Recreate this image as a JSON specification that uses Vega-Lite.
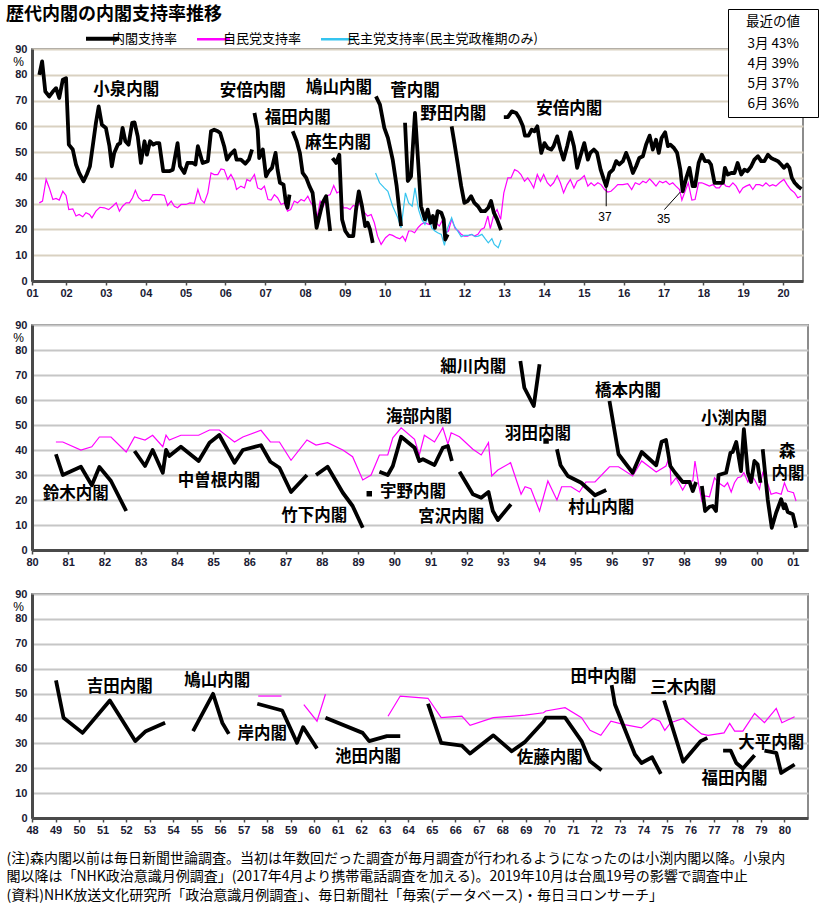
{
  "$schema": "https://vega.github.io/schema/vega-lite/v6.json",
  "padding": {"left": 5, "top": 5, "right": 5, "bottom": 5},
  "title": {"text": "歴代内閣の内閣支持率推移", "anchor": "start", "frame": "group", "font": "Noto Sans CJK JP", "fontSize": 18, "fontWeight": "bold", "dx": -26, "offset": -16, "color": "black"},
  "spacing": 44,
  "bounds": "flush",
  "config": {
    "font": "Noto Sans CJK JP",
    "view": {"stroke": "#8c8c8c", "strokeWidth": 2},
    "axis": {"domainColor": "#4a4a4a", "domainWidth": 3, "labelFont": "Liberation Sans", "labelFontWeight": "bold", "labelFontSize": 11, "labelColor": "#1a1a33", "gridColor": "#c6c6c6", "gridWidth": 2, "labelOverlap": false, "labelFlush": false, "labelSeparation": 0},
    "axisY": {"ticks": false, "labelPadding": 5, "grid": true, "labelOverlap": false, "labelBound": false},
    "axisQuantitative": {"labelOverlap": false},
    "axisX": {"grid": false, "tickSize": 4, "tickColor": "#4a4a4a", "tickWidth": 1.5, "labelPadding": 2},
    "text": {"font": "Noto Sans CJK JP", "fontSize": 16.5, "fontWeight": "bold", "color": "black"}
  },
  "resolve": {"scale": {"color": "independent", "shape": "independent"}, "legend": {"color": "independent", "shape": "independent"}},
  "datasets": {
    "p1cab": [
      {"g":"小泉","x":2001.33,"y":80.0},{"g":"小泉","x":2001.40,"y":85.2},{"g":"小泉","x":2001.48,"y":73.5},{"g":"小泉","x":2001.58,"y":71.6},{"g":"小泉","x":2001.67,"y":73.5},{"g":"小泉","x":2001.75,"y":74.8},{"g":"小泉","x":2001.83,"y":71.0},{"g":"小泉","x":2001.92,"y":78.1},{"g":"小泉","x":2002.00,"y":78.7},{"g":"小泉","x":2002.07,"y":52.9},{"g":"小泉","x":2002.17,"y":51.0},{"g":"小泉","x":2002.25,"y":45.2},{"g":"小泉","x":2002.33,"y":41.9},{"g":"小泉","x":2002.44,"y":38.7},{"g":"小泉","x":2002.52,"y":41.3},{"g":"小泉","x":2002.60,"y":44.5},{"g":"小泉","x":2002.67,"y":52.3},{"g":"小泉","x":2002.75,"y":61.3},{"g":"小泉","x":2002.82,"y":67.7},{"g":"小泉","x":2002.90,"y":60.6},{"g":"小泉","x":2003.00,"y":59.4},{"g":"小泉","x":2003.09,"y":52.3},{"g":"小泉","x":2003.15,"y":44.5},{"g":"小泉","x":2003.21,"y":49.7},{"g":"小泉","x":2003.30,"y":52.9},{"g":"小泉","x":2003.36,"y":53.5},{"g":"小泉","x":2003.42,"y":59.4},{"g":"小泉","x":2003.49,"y":54.2},{"g":"小泉","x":2003.57,"y":52.9},{"g":"小泉","x":2003.66,"y":61.3},{"g":"小泉","x":2003.72,"y":61.5},{"g":"小泉","x":2003.80,"y":56.1},{"g":"小泉","x":2003.88,"y":45.8},{"g":"小泉","x":2003.97,"y":54.2},{"g":"小泉","x":2004.03,"y":49.0},{"g":"小泉","x":2004.11,"y":54.2},{"g":"小泉","x":2004.19,"y":52.9},{"g":"小泉","x":2004.26,"y":53.5},{"g":"小泉","x":2004.34,"y":53.5},{"g":"小泉","x":2004.44,"y":42.6},{"g":"小泉","x":2004.59,"y":42.6},{"g":"小泉","x":2004.68,"y":43.2},{"g":"小泉","x":2004.80,"y":53.5},{"g":"小泉","x":2004.86,"y":44.5},{"g":"小泉","x":2004.97,"y":41.9},{"g":"小泉","x":2005.05,"y":45.8},{"g":"小泉","x":2005.18,"y":45.8},{"g":"小泉","x":2005.25,"y":45.2},{"g":"小泉","x":2005.31,"y":52.3},{"g":"小泉","x":2005.43,"y":45.8},{"g":"小泉","x":2005.56,"y":46.5},{"g":"小泉","x":2005.64,"y":58.1},{"g":"小泉","x":2005.72,"y":58.7},{"g":"小泉","x":2005.81,"y":58.1},{"g":"小泉","x":2005.87,"y":57.4},{"g":"小泉","x":2005.97,"y":52.3},{"g":"小泉","x":2006.04,"y":47.1},{"g":"小泉","x":2006.12,"y":49.0},{"g":"小泉","x":2006.23,"y":50.7},{"g":"小泉","x":2006.28,"y":47.1},{"g":"小泉","x":2006.39,"y":47.1},{"g":"小泉","x":2006.50,"y":45.5},{"g":"小泉","x":2006.59,"y":47.1},{"g":"小泉","x":2006.67,"y":51.0},
      {"g":"安倍1","x":2006.73,"y":65.2},{"g":"安倍1","x":2006.81,"y":58.7},{"g":"安倍1","x":2006.85,"y":47.7},{"g":"安倍1","x":2006.94,"y":51.0},{"g":"安倍1","x":2007.02,"y":40.6},{"g":"安倍1","x":2007.09,"y":42.6},{"g":"安倍1","x":2007.17,"y":43.9},{"g":"安倍1","x":2007.26,"y":49.7},{"g":"安倍1","x":2007.31,"y":43.2},{"g":"安倍1","x":2007.37,"y":38.1},{"g":"安倍1","x":2007.46,"y":37.4},{"g":"安倍1","x":2007.52,"y":30.3},{"g":"安倍1","x":2007.56,"y":28.4},{"g":"安倍1","x":2007.61,"y":33.5},
      {"g":"福田","x":2007.69,"y":58.1},{"g":"福田","x":2007.79,"y":54.2},{"g":"福田","x":2007.87,"y":49.7},{"g":"福田","x":2007.94,"y":41.9},{"g":"福田","x":2008.03,"y":40.0},{"g":"福田","x":2008.11,"y":36.8},{"g":"福田","x":2008.19,"y":34.2},{"g":"福田","x":2008.29,"y":20.6},{"g":"福田","x":2008.36,"y":25.2},{"g":"福田","x":2008.44,"y":30.3},{"g":"福田","x":2008.53,"y":32.9},{"g":"福田","x":2008.63,"y":19.4},
      {"g":"麻生","x":2008.69,"y":47.7},{"g":"麻生","x":2008.78,"y":45.8},{"g":"麻生","x":2008.86,"y":49.0},{"g":"麻生","x":2008.93,"y":23.9},{"g":"麻生","x":2009.01,"y":19.4},{"g":"麻生","x":2009.10,"y":17.4},{"g":"麻生","x":2009.21,"y":17.4},{"g":"麻生","x":2009.28,"y":27.7},{"g":"麻生","x":2009.35,"y":34.8},{"g":"麻生","x":2009.43,"y":29.0},{"g":"麻生","x":2009.51,"y":21.3},{"g":"麻生","x":2009.57,"y":22.6},{"g":"麻生","x":2009.63,"y":20.0},{"g":"麻生","x":2009.70,"y":14.8},
      {"g":"鳩山","x":2009.78,"y":71.6},{"g":"鳩山","x":2009.88,"y":68.4},{"g":"鳩山","x":2009.99,"y":59.4},{"g":"鳩山","x":2010.08,"y":55.5},{"g":"鳩山","x":2010.20,"y":47.1},{"g":"鳩山","x":2010.30,"y":36.8},{"g":"鳩山","x":2010.41,"y":21.3},
      {"g":"菅","x":2010.51,"y":61.4},{"g":"菅","x":2010.58,"y":38.8},{"g":"菅","x":2010.66,"y":40.6},{"g":"菅","x":2010.76,"y":65.2},{"g":"菅","x":2010.83,"y":48.4},{"g":"菅","x":2010.91,"y":29.0},{"g":"菅","x":2011.01,"y":23.9},{"g":"菅","x":2011.08,"y":27.7},{"g":"菅","x":2011.15,"y":22.6},{"g":"菅","x":2011.21,"y":25.2},{"g":"菅","x":2011.26,"y":20.6},{"g":"菅","x":2011.33,"y":27.1},{"g":"菅","x":2011.42,"y":26.5},{"g":"菅","x":2011.48,"y":23.9},{"g":"菅","x":2011.52,"y":16.1},{"g":"菅","x":2011.58,"y":18.1},
      {"g":"野田","x":2011.68,"y":60.0},{"g":"野田","x":2011.75,"y":53.5},{"g":"野田","x":2011.83,"y":45.8},{"g":"野田","x":2011.92,"y":36.8},{"g":"野田","x":2012.00,"y":30.3},{"g":"野田","x":2012.08,"y":31.0},{"g":"野田","x":2012.17,"y":32.9},{"g":"野田","x":2012.25,"y":30.3},{"g":"野田","x":2012.34,"y":29.0},{"g":"野田","x":2012.42,"y":27.1},{"g":"野田","x":2012.52,"y":27.1},{"g":"野田","x":2012.60,"y":28.4},{"g":"野田","x":2012.67,"y":31.0},{"g":"野田","x":2012.74,"y":26.5},{"g":"野田","x":2012.82,"y":23.9},{"g":"野田","x":2012.92,"y":19.7},
      {"g":"安倍2","x":2012.99,"y":63.6},{"g":"安倍2","x":2013.09,"y":63.6},{"g":"安倍2","x":2013.19,"y":65.8},{"g":"安倍2","x":2013.30,"y":65.2},{"g":"安倍2","x":2013.38,"y":63.2},{"g":"安倍2","x":2013.47,"y":60.0},{"g":"安倍2","x":2013.52,"y":56.4},{"g":"安倍2","x":2013.61,"y":56.4},{"g":"安倍2","x":2013.69,"y":58.7},{"g":"安倍2","x":2013.76,"y":58.1},{"g":"安倍2","x":2013.83,"y":60.0},{"g":"安倍2","x":2013.93,"y":49.7},{"g":"安倍2","x":2014.01,"y":53.5},{"g":"安倍2","x":2014.09,"y":51.6},{"g":"安倍2","x":2014.18,"y":51.0},{"g":"安倍2","x":2014.24,"y":52.3},{"g":"安倍2","x":2014.33,"y":56.1},{"g":"安倍2","x":2014.41,"y":51.0},{"g":"安倍2","x":2014.49,"y":47.1},{"g":"安倍2","x":2014.58,"y":52.3},{"g":"安倍2","x":2014.66,"y":57.7},{"g":"安倍2","x":2014.75,"y":52.3},{"g":"安倍2","x":2014.83,"y":43.9},{"g":"安倍2","x":2014.91,"y":48.4},{"g":"安倍2","x":2015.01,"y":53.5},{"g":"安倍2","x":2015.10,"y":47.1},{"g":"安倍2","x":2015.16,"y":49.7},{"g":"安倍2","x":2015.25,"y":51.0},{"g":"安倍2","x":2015.33,"y":49.7},{"g":"安倍2","x":2015.42,"y":43.2},{"g":"安倍2","x":2015.50,"y":39.4},{"g":"安倍2","x":2015.56,"y":36.8},{"g":"安倍2","x":2015.64,"y":41.9},{"g":"安倍2","x":2015.73,"y":43.2},{"g":"安倍2","x":2015.81,"y":46.5},{"g":"安倍2","x":2015.89,"y":45.2},{"g":"安倍2","x":2015.98,"y":46.5},{"g":"安倍2","x":2016.06,"y":49.7},{"g":"安倍2","x":2016.14,"y":46.5},{"g":"安倍2","x":2016.23,"y":41.9},{"g":"安倍2","x":2016.31,"y":44.5},{"g":"安倍2","x":2016.39,"y":47.7},{"g":"安倍2","x":2016.48,"y":48.4},{"g":"安倍2","x":2016.56,"y":52.9},{"g":"安倍2","x":2016.65,"y":56.4},{"g":"安倍2","x":2016.73,"y":51.0},{"g":"安倍2","x":2016.81,"y":54.8},{"g":"安倍2","x":2016.88,"y":49.7},{"g":"安倍2","x":2016.95,"y":55.5},{"g":"安倍2","x":2017.04,"y":57.7},{"g":"安倍2","x":2017.11,"y":52.3},{"g":"安倍2","x":2017.17,"y":52.9},{"g":"安倍2","x":2017.26,"y":51.6},{"g":"安倍2","x":2017.34,"y":49.7},{"g":"安倍2","x":2017.42,"y":43.2},{"g":"安倍2","x":2017.48,"y":34.8},{"g":"安倍2","x":2017.57,"y":40.0},{"g":"安倍2","x":2017.65,"y":43.9},{"g":"安倍2","x":2017.73,"y":36.8},{"g":"安倍2","x":2017.79,"y":36.8},{"g":"安倍2","x":2017.88,"y":45.8},{"g":"安倍2","x":2017.96,"y":49.0},{"g":"安倍2","x":2018.04,"y":46.5},{"g":"安倍2","x":2018.13,"y":46.5},{"g":"安倍2","x":2018.19,"y":45.2},{"g":"安倍2","x":2018.28,"y":38.1},{"g":"安倍2","x":2018.38,"y":38.1},{"g":"安倍2","x":2018.49,"y":38.1},{"g":"安倍2","x":2018.54,"y":43.9},{"g":"安倍2","x":2018.61,"y":41.3},{"g":"安倍2","x":2018.70,"y":41.9},{"g":"安倍2","x":2018.78,"y":41.9},{"g":"安倍2","x":2018.86,"y":45.8},{"g":"安倍2","x":2018.95,"y":41.3},{"g":"安倍2","x":2019.03,"y":43.2},{"g":"安倍2","x":2019.11,"y":42.6},{"g":"安倍2","x":2019.20,"y":44.5},{"g":"安倍2","x":2019.28,"y":47.1},{"g":"安倍2","x":2019.37,"y":48.4},{"g":"安倍2","x":2019.45,"y":46.5},{"g":"安倍2","x":2019.53,"y":46.5},{"g":"安倍2","x":2019.62,"y":49.0},{"g":"安倍2","x":2019.70,"y":47.7},{"g":"安倍2","x":2019.78,"y":47.1},{"g":"安倍2","x":2019.87,"y":46.5},{"g":"安倍2","x":2019.95,"y":45.2},{"g":"安倍2","x":2020.02,"y":43.9},{"g":"安倍2","x":2020.10,"y":45.2},{"g":"安倍2","x":2020.16,"y":43.9},{"g":"安倍2","x":2020.22,"y":40.0},{"g":"安倍2","x":2020.29,"y":38.1},{"g":"安倍2","x":2020.37,"y":36.8},{"g":"安倍2","x":2020.46,"y":35.7}
    ],
    "p1ldp": [
      {"x":2001.33,"y":30.3},{"x":2001.41,"y":31.0},{"x":2001.50,"y":39.4},{"x":2001.58,"y":36.1},{"x":2001.67,"y":31.6},{"x":2001.75,"y":32.0},{"x":2001.83,"y":31.4},{"x":2001.92,"y":34.8},{"x":2002.00,"y":33.2},{"x":2002.07,"y":27.7},{"x":2002.17,"y":28.0},{"x":2002.25,"y":25.2},{"x":2002.33,"y":25.8},{"x":2002.42,"y":24.9},{"x":2002.50,"y":26.5},{"x":2002.59,"y":25.8},{"x":2002.65,"y":24.5},{"x":2002.75,"y":27.1},{"x":2002.85,"y":28.6},{"x":2002.96,"y":28.4},{"x":2003.07,"y":27.7},{"x":2003.17,"y":29.0},{"x":2003.26,"y":30.3},{"x":2003.34,"y":27.1},{"x":2003.42,"y":29.0},{"x":2003.51,"y":30.3},{"x":2003.59,"y":30.3},{"x":2003.67,"y":32.3},{"x":2003.74,"y":35.2},{"x":2003.82,"y":32.3},{"x":2003.92,"y":31.0},{"x":2004.01,"y":31.4},{"x":2004.09,"y":31.2},{"x":2004.18,"y":33.5},{"x":2004.28,"y":33.5},{"x":2004.38,"y":33.5},{"x":2004.47,"y":33.2},{"x":2004.55,"y":29.3},{"x":2004.64,"y":31.0},{"x":2004.72,"y":29.0},{"x":2004.80,"y":28.4},{"x":2004.89,"y":29.7},{"x":2005.01,"y":29.7},{"x":2005.11,"y":30.3},{"x":2005.22,"y":30.1},{"x":2005.31,"y":35.5},{"x":2005.39,"y":31.6},{"x":2005.47,"y":30.3},{"x":2005.56,"y":34.2},{"x":2005.64,"y":41.9},{"x":2005.72,"y":41.3},{"x":2005.81,"y":41.3},{"x":2005.89,"y":43.5},{"x":2005.97,"y":43.2},{"x":2006.06,"y":39.4},{"x":2006.14,"y":41.3},{"x":2006.23,"y":38.7},{"x":2006.28,"y":35.5},{"x":2006.39,"y":36.8},{"x":2006.48,"y":36.1},{"x":2006.54,"y":39.4},{"x":2006.62,"y":38.7},{"x":2006.73,"y":41.3},{"x":2006.81,"y":36.1},{"x":2006.90,"y":35.5},{"x":2006.98,"y":36.8},{"x":2007.07,"y":31.6},{"x":2007.15,"y":31.4},{"x":2007.23,"y":33.5},{"x":2007.31,"y":32.3},{"x":2007.40,"y":29.7},{"x":2007.48,"y":30.3},{"x":2007.56,"y":27.1},{"x":2007.64,"y":27.7},{"x":2007.73,"y":31.0},{"x":2007.81,"y":30.3},{"x":2007.90,"y":31.6},{"x":2007.98,"y":31.0},{"x":2008.07,"y":32.9},{"x":2008.15,"y":30.3},{"x":2008.23,"y":28.4},{"x":2008.31,"y":25.2},{"x":2008.38,"y":31.0},{"x":2008.46,"y":29.0},{"x":2008.54,"y":32.9},{"x":2008.63,"y":33.5},{"x":2008.72,"y":37.0},{"x":2008.80,"y":34.2},{"x":2008.88,"y":34.8},{"x":2008.96,"y":28.4},{"x":2009.05,"y":28.4},{"x":2009.13,"y":27.7},{"x":2009.21,"y":29.3},{"x":2009.30,"y":28.8},{"x":2009.38,"y":30.3},{"x":2009.46,"y":27.1},{"x":2009.57,"y":25.2},{"x":2009.66,"y":25.8},{"x":2009.74,"y":22.6},{"x":2009.82,"y":17.4},{"x":2009.91,"y":14.2},{"x":2010.02,"y":16.8},{"x":2010.12,"y":18.1},{"x":2010.20,"y":17.7},{"x":2010.30,"y":16.8},{"x":2010.38,"y":16.4},{"x":2010.45,"y":17.4},{"x":2010.52,"y":15.5},{"x":2010.60,"y":19.4},{"x":2010.67,"y":19.4},{"x":2010.75,"y":18.7},{"x":2010.83,"y":20.6},{"x":2010.91,"y":21.9},{"x":2010.99,"y":22.6},{"x":2011.12,"y":21.9},{"x":2011.21,"y":23.2},{"x":2011.29,"y":22.6},{"x":2011.37,"y":21.3},{"x":2011.46,"y":23.9},{"x":2011.52,"y":18.7},{"x":2011.60,"y":19.4},{"x":2011.68,"y":23.9},{"x":2011.77,"y":20.3},{"x":2011.85,"y":19.4},{"x":2011.92,"y":18.1},{"x":2012.00,"y":17.4},{"x":2012.08,"y":17.4},{"x":2012.17,"y":18.1},{"x":2012.25,"y":17.4},{"x":2012.34,"y":18.1},{"x":2012.42,"y":20.0},{"x":2012.50,"y":20.6},{"x":2012.59,"y":25.2},{"x":2012.65,"y":20.3},{"x":2012.74,"y":25.8},{"x":2012.82,"y":27.7},{"x":2012.91,"y":23.9},{"x":2012.99,"y":34.2},{"x":2013.09,"y":40.0},{"x":2013.17,"y":40.0},{"x":2013.26,"y":43.2},{"x":2013.34,"y":42.6},{"x":2013.42,"y":41.3},{"x":2013.51,"y":38.7},{"x":2013.59,"y":40.0},{"x":2013.67,"y":38.1},{"x":2013.74,"y":36.1},{"x":2013.83,"y":41.3},{"x":2013.91,"y":38.7},{"x":2013.99,"y":41.3},{"x":2014.08,"y":38.1},{"x":2014.16,"y":36.8},{"x":2014.24,"y":38.1},{"x":2014.33,"y":40.9},{"x":2014.41,"y":38.1},{"x":2014.49,"y":34.2},{"x":2014.58,"y":37.4},{"x":2014.66,"y":39.4},{"x":2014.75,"y":36.1},{"x":2014.83,"y":38.7},{"x":2014.91,"y":39.4},{"x":2015.01,"y":40.9},{"x":2015.10,"y":36.8},{"x":2015.18,"y":38.1},{"x":2015.26,"y":37.0},{"x":2015.35,"y":38.1},{"x":2015.43,"y":37.4},{"x":2015.52,"y":35.5},{"x":2015.60,"y":34.5},{"x":2015.68,"y":34.8},{"x":2015.77,"y":36.1},{"x":2015.85,"y":37.4},{"x":2015.98,"y":37.4},{"x":2016.10,"y":37.8},{"x":2016.20,"y":35.5},{"x":2016.29,"y":38.1},{"x":2016.39,"y":37.4},{"x":2016.48,"y":38.7},{"x":2016.56,"y":38.1},{"x":2016.65,"y":39.6},{"x":2016.73,"y":38.3},{"x":2016.81,"y":36.8},{"x":2016.90,"y":38.7},{"x":2016.98,"y":38.1},{"x":2017.06,"y":38.7},{"x":2017.15,"y":37.4},{"x":2017.23,"y":38.1},{"x":2017.31,"y":36.8},{"x":2017.40,"y":35.5},{"x":2017.46,"y":31.4},{"x":2017.54,"y":34.8},{"x":2017.62,"y":38.1},{"x":2017.71,"y":31.4},{"x":2017.79,"y":31.6},{"x":2017.88,"y":38.1},{"x":2017.96,"y":38.1},{"x":2018.07,"y":37.4},{"x":2018.15,"y":36.8},{"x":2018.24,"y":37.4},{"x":2018.32,"y":36.1},{"x":2018.40,"y":36.1},{"x":2018.49,"y":38.1},{"x":2018.57,"y":36.8},{"x":2018.65,"y":36.5},{"x":2018.74,"y":38.1},{"x":2018.82,"y":36.8},{"x":2018.91,"y":34.2},{"x":2018.99,"y":36.1},{"x":2019.07,"y":36.8},{"x":2019.16,"y":37.4},{"x":2019.24,"y":35.5},{"x":2019.32,"y":37.4},{"x":2019.41,"y":37.4},{"x":2019.49,"y":36.8},{"x":2019.57,"y":38.1},{"x":2019.66,"y":36.8},{"x":2019.74,"y":37.4},{"x":2019.82,"y":36.8},{"x":2019.91,"y":38.1},{"x":2020.02,"y":39.4},{"x":2020.10,"y":37.4},{"x":2020.19,"y":35.5},{"x":2020.29,"y":34.2},{"x":2020.37,"y":32.3},{"x":2020.45,"y":32.9}
    ],
    "p1dpj": [
      {"x":2009.77,"y":41.9},{"x":2009.87,"y":38.1},{"x":2009.99,"y":36.1},{"x":2010.08,"y":34.8},{"x":2010.20,"y":29.0},{"x":2010.33,"y":24.5},{"x":2010.41,"y":20.6},{"x":2010.52,"y":34.2},{"x":2010.60,"y":30.3},{"x":2010.69,"y":29.0},{"x":2010.76,"y":36.1},{"x":2010.85,"y":27.7},{"x":2010.93,"y":23.9},{"x":2011.01,"y":21.9},{"x":2011.10,"y":25.2},{"x":2011.18,"y":20.6},{"x":2011.26,"y":19.4},{"x":2011.33,"y":18.7},{"x":2011.42,"y":18.1},{"x":2011.50,"y":13.8},{"x":2011.58,"y":20.6},{"x":2011.68,"y":24.5},{"x":2011.75,"y":21.3},{"x":2011.83,"y":19.4},{"x":2011.92,"y":17.2},{"x":2012.00,"y":17.7},{"x":2012.10,"y":17.7},{"x":2012.19,"y":18.1},{"x":2012.27,"y":17.2},{"x":2012.35,"y":17.4},{"x":2012.44,"y":18.1},{"x":2012.52,"y":16.4},{"x":2012.60,"y":14.8},{"x":2012.69,"y":16.4},{"x":2012.75,"y":14.2},{"x":2012.85,"y":12.9},{"x":2012.92,"y":15.9}
    ],
    "l1": [
      {"t":"小泉内閣","x":2003.51,"y":74.1},{"t":"安倍内閣","x":2006.69,"y":73.7},{"t":"福田内閣","x":2007.82,"y":63.2},{"t":"麻生内閣","x":2008.83,"y":53.5},{"t":"鳩山内閣","x":2008.85,"y":74.9},{"t":"菅内閣","x":2010.76,"y":73.7},{"t":"野田内閣","x":2011.72,"y":64.8},{"t":"安倍内閣","x":2014.63,"y":66.7}
    ],
    "a1": [
      {"x":2015.56,"y":36.8,"x2":2015.56,"y2":29.0},{"x":2017.42,"y":34.5,"x2":2017.02,"y2":27.7}
    ],
    "n1": [
      {"t":"37","x":2015.53,"y":24.9},{"t":"35","x":2017.0,"y":24.1}
    ],
    "recent": [
      {"m":"3月 43%"},{"m":"4月 39%"},{"m":"5月 37%"},{"m":"6月 36%"}
    ],
    "p2cab": [
      {"g":"鈴木","x":1980.66,"y":38.3},{"g":"鈴木","x":1980.85,"y":30.0},{"g":"鈴木","x":1981.35,"y":33.3},{"g":"鈴木","x":1981.65,"y":25.9},{"g":"鈴木","x":1981.86,"y":33.2},{"g":"鈴木","x":1982.18,"y":27.6},{"g":"鈴木","x":1982.60,"y":15.6},
      {"g":"中曽根","x":1982.83,"y":39.6},{"g":"中曽根","x":1983.12,"y":33.6},{"g":"中曽根","x":1983.33,"y":40.0},{"g":"中曽根","x":1983.61,"y":30.9},{"g":"中曽根","x":1983.70,"y":40.0},{"g":"中曽根","x":1983.79,"y":37.6},{"g":"中曽根","x":1984.11,"y":41.3},{"g":"中曽根","x":1984.60,"y":35.6},{"g":"中曽根","x":1984.90,"y":42.9},{"g":"中曽根","x":1985.17,"y":46.0},{"g":"中曽根","x":1985.59,"y":34.9},{"g":"中曽根","x":1985.82,"y":40.0},{"g":"中曽根","x":1986.32,"y":41.9},{"g":"中曽根","x":1986.58,"y":35.3},{"g":"中曽根","x":1986.83,"y":32.9},{"g":"中曽根","x":1987.15,"y":23.2},{"g":"中曽根","x":1987.59,"y":30.0},
      {"g":"竹下","x":1987.84,"y":30.0},{"g":"竹下","x":1988.16,"y":33.3},{"g":"竹下","x":1988.58,"y":22.9},{"g":"竹下","x":1988.85,"y":17.6},{"g":"竹下","x":1989.13,"y":8.9},
      {"g":"海部","x":1989.59,"y":31.3},{"g":"海部","x":1989.82,"y":30.0},{"g":"海部","x":1989.96,"y":33.6},{"g":"海部","x":1990.19,"y":45.3},{"g":"海部","x":1990.56,"y":40.9},{"g":"海部","x":1990.69,"y":35.6},{"g":"海部","x":1990.79,"y":36.3},{"g":"海部","x":1991.11,"y":34.0},{"g":"海部","x":1991.34,"y":40.9},{"g":"海部","x":1991.48,"y":41.6},{"g":"海部","x":1991.59,"y":35.6},
      {"g":"宮沢","x":1991.80,"y":31.3},{"g":"宮沢","x":1992.17,"y":22.3},{"g":"宮沢","x":1992.40,"y":20.9},{"g":"宮沢","x":1992.60,"y":23.2},{"g":"宮沢","x":1992.72,"y":15.6},{"g":"宮沢","x":1992.86,"y":12.0},{"g":"宮沢","x":1993.22,"y":18.3},
      {"g":"細川","x":1993.48,"y":75.6},{"g":"細川","x":1993.59,"y":64.9},{"g":"細川","x":1993.85,"y":57.6},{"g":"細川","x":1994.01,"y":74.3},
      {"g":"村山","x":1994.49,"y":40.3},{"g":"村山","x":1994.59,"y":33.9},{"g":"村山","x":1994.79,"y":29.6},{"g":"村山","x":1995.16,"y":26.9},{"g":"村山","x":1995.54,"y":21.9},{"g":"村山","x":1995.85,"y":24.0},
      {"g":"橋本","x":1995.94,"y":59.6},{"g":"橋本","x":1996.19,"y":38.3},{"g":"橋本","x":1996.58,"y":30.9},{"g":"橋本","x":1996.83,"y":39.2},{"g":"橋本","x":1997.23,"y":33.9},{"g":"橋本","x":1997.38,"y":43.3},{"g":"橋本","x":1997.50,"y":44.0},{"g":"橋本","x":1997.62,"y":33.6},{"g":"橋本","x":1997.75,"y":30.9},{"g":"橋本","x":1997.96,"y":27.2},{"g":"橋本","x":1998.15,"y":27.2},{"g":"橋本","x":1998.24,"y":23.6},{"g":"橋本","x":1998.33,"y":27.2},
      {"g":"小渕","x":1998.49,"y":25.6},{"g":"小渕","x":1998.58,"y":15.6},{"g":"小渕","x":1998.70,"y":17.3},{"g":"小渕","x":1998.79,"y":17.6},{"g":"小渕","x":1998.88,"y":15.6},{"g":"小渕","x":1998.95,"y":30.0},{"g":"小渕","x":1999.16,"y":30.9},{"g":"小渕","x":1999.28,"y":38.9},{"g":"小渕","x":1999.34,"y":39.2},{"g":"小渕","x":1999.44,"y":43.2},{"g":"小渕","x":1999.57,"y":31.6},{"g":"小渕","x":1999.65,"y":48.3},{"g":"小渕","x":1999.76,"y":30.9},{"g":"小渕","x":1999.85,"y":27.2},{"g":"小渕","x":1999.94,"y":35.6},{"g":"小渕","x":2000.03,"y":34.3},{"g":"小渕","x":2000.11,"y":26.9},
      {"g":"森","x":2000.17,"y":40.3},{"g":"森","x":2000.31,"y":20.0},{"g":"森","x":2000.42,"y":8.9},{"g":"森","x":2000.54,"y":14.9},{"g":"森","x":2000.68,"y":20.3},{"g":"森","x":2000.75,"y":16.7},{"g":"森","x":2000.79,"y":18.3},{"g":"森","x":2000.86,"y":15.2},{"g":"森","x":2001.00,"y":14.3},{"g":"森","x":2001.09,"y":8.9}
    ],
    "p2ldp": [
      {"x":1980.66,"y":43.2},{"x":1980.85,"y":43.2},{"x":1981.35,"y":40.0},{"x":1981.65,"y":41.3},{"x":1981.86,"y":45.2},{"x":1982.18,"y":45.2},{"x":1982.60,"y":39.2},{"x":1982.83,"y":45.2},{"x":1983.12,"y":44.0},{"x":1983.33,"y":45.9},{"x":1983.61,"y":41.3},{"x":1983.70,"y":45.9},{"x":1983.79,"y":44.0},{"x":1984.11,"y":45.9},{"x":1984.60,"y":45.9},{"x":1984.90,"y":48.0},{"x":1985.17,"y":48.0},{"x":1985.59,"y":43.2},{"x":1985.82,"y":45.2},{"x":1986.32,"y":47.9},{"x":1986.58,"y":43.2},{"x":1986.83,"y":43.2},{"x":1987.15,"y":35.9},{"x":1987.59,"y":44.0},{"x":1987.84,"y":42.0},{"x":1988.16,"y":42.9},{"x":1988.58,"y":40.0},{"x":1988.85,"y":37.3},{"x":1989.13,"y":28.0},{"x":1989.36,"y":30.0},{"x":1989.59,"y":38.0},{"x":1989.82,"y":38.0},{"x":1989.96,"y":44.9},{"x":1990.19,"y":48.9},{"x":1990.56,"y":44.3},{"x":1990.69,"y":38.0},{"x":1990.83,"y":45.9},{"x":1991.11,"y":43.2},{"x":1991.34,"y":48.9},{"x":1991.48,"y":42.3},{"x":1991.57,"y":46.9},{"x":1991.80,"y":45.3},{"x":1992.17,"y":40.3},{"x":1992.40,"y":38.0},{"x":1992.60,"y":42.9},{"x":1992.69,"y":29.6},{"x":1992.86,"y":32.0},{"x":1993.21,"y":34.9},{"x":1993.50,"y":22.3},{"x":1993.61,"y":25.3},{"x":1993.77,"y":24.5},{"x":1994.01,"y":15.6},{"x":1994.24,"y":27.6},{"x":1994.49,"y":20.0},{"x":1994.62,"y":25.3},{"x":1994.88,"y":25.3},{"x":1995.11,"y":23.2},{"x":1995.29,"y":27.2},{"x":1995.54,"y":27.2},{"x":1995.94,"y":33.3},{"x":1996.19,"y":33.3},{"x":1996.58,"y":29.6},{"x":1996.83,"y":35.6},{"x":1997.23,"y":31.2},{"x":1997.50,"y":33.6},{"x":1997.60,"y":37.6},{"x":1997.64,"y":26.3},{"x":1997.78,"y":28.9},{"x":1997.96,"y":24.0},{"x":1998.10,"y":27.6},{"x":1998.24,"y":27.6},{"x":1998.30,"y":35.6},{"x":1998.40,"y":26.3},{"x":1998.49,"y":19.6},{"x":1998.58,"y":21.6},{"x":1998.70,"y":21.3},{"x":1998.84,"y":28.9},{"x":1998.95,"y":26.9},{"x":1999.11,"y":25.3},{"x":1999.20,"y":26.9},{"x":1999.30,"y":23.2},{"x":1999.39,"y":26.9},{"x":1999.48,"y":28.9},{"x":1999.57,"y":29.3},{"x":1999.65,"y":30.9},{"x":1999.76,"y":27.2},{"x":1999.85,"y":29.6},{"x":1999.94,"y":28.3},{"x":2000.08,"y":24.3},{"x":2000.17,"y":30.9},{"x":2000.27,"y":28.3},{"x":2000.40,"y":22.3},{"x":2000.54,"y":22.9},{"x":2000.68,"y":22.3},{"x":2000.77,"y":26.9},{"x":2000.86,"y":23.6},{"x":2000.95,"y":23.2},{"x":2001.02,"y":22.9},{"x":2001.09,"y":19.6}
    ],
    "pt2": [
      {"x":1989.31,"y":22.5},{"x":1994.19,"y":43.6}
    ],
    "l2": [
      {"t":"鈴木内閣","x":1981.21,"y":22.4},{"t":"中曽根内閣","x":1985.16,"y":27.6},{"t":"竹下内閣","x":1987.79,"y":13.6},{"t":"宇野内閣","x":1990.52,"y":23.2},{"t":"海部内閣","x":1990.68,"y":53.2},{"t":"細川内閣","x":1992.18,"y":73.2},{"t":"羽田内閣","x":1993.97,"y":46.4},{"t":"宮沢内閣","x":1991.57,"y":13.2},{"t":"村山内閣","x":1995.71,"y":16.8},{"t":"橋本内閣","x":1996.45,"y":63.6},{"t":"小渕内閣","x":1999.38,"y":52.4},{"t":"森","x":2000.85,"y":39.2},{"t":"内閣","x":2000.87,"y":30.4}
    ],
    "p3cab": [
      {"g":"吉田","x":1949.02,"y":55.3},{"g":"吉田","x":1949.34,"y":40.3},{"g":"吉田","x":1950.15,"y":34.2},{"g":"吉田","x":1951.31,"y":47.2},{"g":"吉田","x":1952.39,"y":30.9},{"g":"吉田","x":1952.84,"y":34.9},{"g":"吉田","x":1953.66,"y":38.3},
      {"g":"鳩山","x":1954.85,"y":34.9},{"g":"鳩山","x":1955.70,"y":49.9},{"g":"鳩山","x":1956.09,"y":38.3},{"g":"鳩山","x":1956.37,"y":33.8},
      {"g":"岸","x":1957.58,"y":45.9},{"g":"岸","x":1958.64,"y":43.2},{"g":"岸","x":1959.27,"y":30.2},{"g":"岸","x":1959.53,"y":36.5},{"g":"岸","x":1960.12,"y":27.9},
      {"g":"池田","x":1960.48,"y":40.3},{"g":"池田","x":1962.06,"y":34.2},{"g":"池田","x":1962.34,"y":30.9},{"g":"池田","x":1963.09,"y":32.9},{"g":"池田","x":1963.66,"y":32.9},
      {"g":"佐藤","x":1964.84,"y":45.9},{"g":"佐藤","x":1965.40,"y":30.2},{"g":"佐藤","x":1966.28,"y":29.1},{"g":"佐藤","x":1966.63,"y":25.9},{"g":"佐藤","x":1967.62,"y":33.2},{"g":"佐藤","x":1968.40,"y":26.8},{"g":"佐藤","x":1968.97,"y":30.6},{"g":"佐藤","x":1969.75,"y":38.7},{"g":"佐藤","x":1969.85,"y":40.3},{"g":"佐藤","x":1970.67,"y":40.3},{"g":"佐藤","x":1971.37,"y":30.9},{"g":"佐藤","x":1971.73,"y":22.8},{"g":"佐藤","x":1972.22,"y":19.2},
      {"g":"田中","x":1972.65,"y":53.4},{"g":"田中","x":1972.79,"y":45.6},{"g":"田中","x":1973.64,"y":25.5},{"g":"田中","x":1973.92,"y":22.1},{"g":"田中","x":1974.37,"y":24.4},{"g":"田中","x":1974.74,"y":17.7},
      {"g":"三木","x":1974.88,"y":47.2},{"g":"三木","x":1975.69,"y":22.6},{"g":"三木","x":1976.44,"y":30.9},{"g":"三木","x":1976.72,"y":32.2},
      {"g":"福田","x":1977.39,"y":27.1},{"g":"福田","x":1977.71,"y":27.1},{"g":"福田","x":1977.95,"y":22.1},{"g":"福田","x":1978.23,"y":19.9},{"g":"福田","x":1978.73,"y":25.2},
      {"g":"大平","x":1979.15,"y":27.1},{"g":"大平","x":1979.65,"y":26.2},{"g":"大平","x":1979.86,"y":18.1},{"g":"大平","x":1980.43,"y":21.5}
    ],
    "p3ldp": [
      {"g":"a","x":1957.62,"y":49.0},{"g":"a","x":1958.61,"y":49.0},
      {"g":"b","x":1959.56,"y":45.6},{"g":"b","x":1960.12,"y":38.9},{"g":"b","x":1960.48,"y":49.7},
      {"g":"c","x":1963.14,"y":40.9},{"g":"c","x":1963.66,"y":49.0},{"g":"c","x":1964.84,"y":48.1},{"g":"c","x":1965.40,"y":40.3},{"g":"c","x":1966.28,"y":40.9},{"g":"c","x":1966.63,"y":37.2},{"g":"c","x":1967.62,"y":40.3},{"g":"c","x":1968.97,"y":41.3},{"g":"c","x":1969.75,"y":42.3},{"g":"c","x":1969.85,"y":43.0},{"g":"c","x":1970.67,"y":44.3},{"g":"c","x":1971.37,"y":40.3},{"g":"c","x":1971.73,"y":35.2},{"g":"c","x":1972.19,"y":33.2},{"g":"c","x":1972.62,"y":38.9},{"g":"c","x":1973.14,"y":37.6},{"g":"c","x":1973.92,"y":36.2},{"g":"c","x":1974.41,"y":40.0},{"g":"c","x":1974.70,"y":38.9},{"g":"c","x":1974.91,"y":35.2},{"g":"c","x":1975.16,"y":38.3},{"g":"c","x":1975.69,"y":40.0},{"g":"c","x":1976.47,"y":33.8},{"g":"c","x":1976.75,"y":33.2},{"g":"c","x":1977.43,"y":34.2},{"g":"c","x":1977.67,"y":38.0},{"g":"c","x":1977.88,"y":34.9},{"g":"c","x":1978.23,"y":34.9},{"g":"c","x":1978.73,"y":42.0},{"g":"c","x":1979.15,"y":38.3},{"g":"c","x":1979.65,"y":44.0},{"g":"c","x":1979.89,"y":38.3},{"g":"c","x":1980.43,"y":40.7}
    ],
    "l3": [
      {"t":"吉田内閣","x":1951.73,"y":52.6},{"t":"鳩山内閣","x":1955.88,"y":55.0},{"t":"岸内閣","x":1957.79,"y":33.7},{"t":"池田内閣","x":1962.29,"y":24.5},{"t":"佐藤内閣","x":1970.02,"y":24.1},{"t":"田中内閣","x":1972.30,"y":56.6},{"t":"三木内閣","x":1975.70,"y":52.2},{"t":"大平内閣","x":1979.44,"y":30.1},{"t":"福田内閣","x":1977.87,"y":15.7}
    ]
  },
  "vconcat": [
    {
      "width": 771,
      "height": 232,
      "encoding": {
        "x": {"field": "x", "type": "quantitative", "scale": {"domain": [2001.146, 2020.5], "nice": false, "zero": false},
              "axis": {"title": null, "labelOverlap": false, "tickCount": 20, "values": [2001.146,2002,2003,2004,2005,2006,2007,2008,2009,2010,2011,2012,2013,2014,2015,2016,2017,2018,2019,2020], "labelExpr": "substring(toString(floor(datum.value)), 2)"}},
        "y": {"field": "y", "type": "quantitative", "scale": {"domain": [0, 90], "nice": false},
              "axis": {"labelOverlap": false, "labelBound": false, "values": [0,10,20,30,40,50,60,70,80,90], "labelExpr": "toString(datum.value)", "gridColor": "#d9d1c1", "title": "%", "titleAngle": 0, "titleX": -14, "titleY": 12, "titleAlign": "center", "titleBaseline": "middle", "titleFont": "Liberation Sans", "titleFontSize": 12, "titleFontWeight": "normal"}}
      },
      "layer": [
        {
          "data": {"name": "p1ldp"},
          "mark": {"type": "line", "strokeWidth": 1.2},
          "encoding": {
            "color": {"datum": "自民党支持率", "type": "nominal",
                      "scale": {"domain": ["内閣支持率", "自民党支持率", "民主党支持率(民主党政権期のみ)"], "range": ["#000000", "#ff00ff", "#35c4ef"]},
                      "legend": {"title": null, "orient": "none", "legendX": 64, "legendY": -17, "direction": "horizontal", "symbolType": "stroke", "symbolSize": 1089, "symbolStrokeWidth": 2.5, "labelFont": "Noto Sans CJK JP", "labelFontSize": 13, "labelColor": "black", "labelOffset": 3, "columnPadding": 14, "labelLimit": 400, "padding": 0,
                                 "encode": {"symbols": {"update": {"strokeWidth": {"signal": "datum.value === '内閣支持率' ? 4 : 2.5"}}}}}}
          }
        },
        {
          "data": {"name": "p1dpj"},
          "mark": {"type": "line", "strokeWidth": 1.2},
          "encoding": {
            "color": {"datum": "民主党支持率(民主党政権期のみ)", "type": "nominal"}
          }
        },
        {
          "data": {"name": "p1cab"},
          "mark": {"type": "line", "strokeWidth": 3.8, "strokeJoin": "round"},
          "encoding": {
            "detail": {"field": "g", "type": "nominal"},
            "color": {"datum": "内閣支持率", "type": "nominal"}
          }
        },
        {
          "data": {"name": "a1"},
          "mark": {"type": "rule", "color": "black", "strokeWidth": 1},
          "encoding": {
            "x2": {"field": "x2"},
            "y2": {"field": "y2"}
          }
        },
        {
          "data": {"name": "n1"},
          "mark": {"type": "text", "font": "Liberation Sans", "fontSize": 12, "fontWeight": "normal"},
          "encoding": {
            "text": {"field": "t"}
          }
        },
        {
          "data": {"name": "l1"},
          "mark": {"type": "text"},
          "encoding": {
            "text": {"field": "t"}
          }
        },
        {
          "data": {"name": "recent"},
          "mark": {"type": "point", "opacity": 0},
          "encoding": {
            "shape": {"field": "m", "type": "nominal", "scale": {"domain": ["3月 43%", "4月 39%", "5月 37%", "6月 36%"]},
                      "legend": {"title": "最近の値", "orient": "none", "legendX": 696, "legendY": -40, "direction": "vertical", "titleAnchor": "middle", "titleFont": "Noto Sans CJK JP", "titleFontSize": 13.5, "titleFontWeight": "normal", "titleColor": "black", "titlePadding": 9, "labelFont": "Noto Sans CJK JP", "labelFontSize": 13.5, "labelColor": "black", "labelExpr": "'\u2002\u2002' + datum.label + '\u3164'", "symbolSize": 0, "symbolOpacity": 0, "symbolStrokeWidth": 0, "labelOffset": 0, "rowPadding": 5, "padding": 6, "strokeColor": "black", "fillColor": "white"}}
          }
        }
      ]
    },
    {
      "width": 776,
      "height": 225,
      "encoding": {
        "x": {"field": "x", "type": "quantitative", "scale": {"domain": [1980, 2001.42], "nice": false, "zero": false},
              "axis": {"title": null, "labelOverlap": false, "tickCount": 22, "values": [1980,1981,1982,1983,1984,1985,1986,1987,1988,1989,1990,1991,1992,1993,1994,1995,1996,1997,1998,1999,2000,2001], "labelExpr": "substring(toString(floor(datum.value)), 2)"}},
        "y": {"field": "y", "type": "quantitative", "scale": {"domain": [0, 90], "nice": false},
              "axis": {"labelOverlap": false, "labelBound": false, "values": [0,10,20,30,40,50,60,70,80,90], "labelExpr": "toString(datum.value)", "title": "%", "titleAngle": 0, "titleX": -14, "titleY": 12, "titleAlign": "center", "titleBaseline": "middle", "titleFont": "Liberation Sans", "titleFontSize": 12, "titleFontWeight": "normal"}}
      },
      "layer": [
        {
          "data": {"name": "p2ldp"},
          "mark": {"type": "line", "strokeWidth": 1.2, "color": "#ff00ff"}
        },
        {
          "data": {"name": "p2cab"},
          "mark": {"type": "line", "strokeWidth": 3.8, "color": "black", "strokeJoin": "round"},
          "encoding": {
            "detail": {"field": "g", "type": "nominal"}
          }
        },
        {
          "data": {"name": "pt2"},
          "mark": {"type": "square", "color": "black", "size": 30, "opacity": 1}
        },
        {
          "data": {"name": "l2"},
          "mark": {"type": "text"},
          "encoding": {
            "text": {"field": "t"}
          }
        }
      ]
    },
    {
      "width": 776,
      "height": 224,
      "encoding": {
        "x": {"field": "x", "type": "quantitative", "scale": {"domain": [1948, 1981], "nice": false, "zero": false},
              "axis": {"labelOverlap": false, "tickCount": 33, "values": [1948,1949,1950,1951,1952,1953,1954,1955,1956,1957,1958,1959,1960,1961,1962,1963,1964,1965,1966,1967,1968,1969,1970,1971,1972,1973,1974,1975,1976,1977,1978,1979,1980], "labelExpr": "substring(toString(floor(datum.value)), 2)",
                       "title": ["(注)森内閣以前は毎日新聞世論調査。当初は年数回だった調査が毎月調査が行われるようになったのは小渕内閣以降。小泉内", "\u3000 閣以降は「NHK政治意識月例調査」(2017年4月より携帯電話調査を加える)。2019年10月は台風19号の影響で調査中止", "(資料)NHK放送文化研究所「政治意識月例調査」、毎日新聞社「毎索(データベース)・毎日ヨロンサーチ」"],
                       "titleAnchor": "start", "titleAlign": "left", "titleBaseline": "top", "titleX": -26, "titleY": 33, "titleFont": "Noto Sans CJK JP", "titleFontSize": 14, "titleFontWeight": "normal", "titleColor": "black", "titleLineHeight": 18.5}},
        "y": {"field": "y", "type": "quantitative", "scale": {"domain": [0, 90], "nice": false},
              "axis": {"labelOverlap": false, "labelBound": false, "values": [0,10,20,30,40,50,60,70,80,90], "labelExpr": "toString(datum.value)", "title": "%", "titleAngle": 0, "titleX": -14, "titleY": 12, "titleAlign": "center", "titleBaseline": "middle", "titleFont": "Liberation Sans", "titleFontSize": 12, "titleFontWeight": "normal"}}
      },
      "layer": [
        {
          "data": {"name": "p3ldp"},
          "mark": {"type": "line", "strokeWidth": 1.2, "color": "#ff00ff"},
          "encoding": {
            "detail": {"field": "g", "type": "nominal"}
          }
        },
        {
          "data": {"name": "p3cab"},
          "mark": {"type": "line", "strokeWidth": 3.8, "color": "black", "strokeJoin": "round"},
          "encoding": {
            "detail": {"field": "g", "type": "nominal"}
          }
        },
        {
          "data": {"name": "l3"},
          "mark": {"type": "text"},
          "encoding": {
            "text": {"field": "t"}
          }
        }
      ]
    }
  ]
}
